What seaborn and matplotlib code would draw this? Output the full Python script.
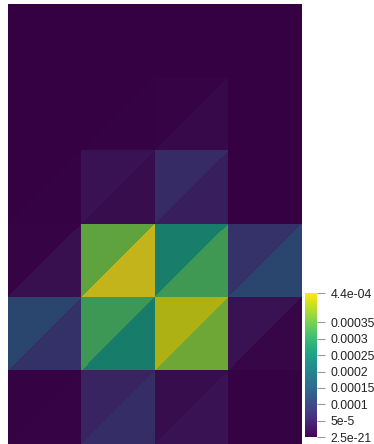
import numpy as np
import matplotlib
matplotlib.use("Agg")
import matplotlib.pyplot as plt
import seaborn as sns
from matplotlib.colors import ListedColormap, Normalize
from matplotlib.cm import ScalarMappable

sns.set_style("white")
plt.rcParams['font.family'] = ['Liberation Sans', 'DejaVu Sans']

# --- data: one value per triangle, rows listed top -> bottom, 4 columns ---
n_cols = 4
n_rows = 6
# upper-left triangle of each square cell
upper_left = [
    [1e-7, 1e-7, 1e-7, 1e-7],
    [1e-7, 1e-7, 4.0e-6, 1e-7],
    [1e-7, 2.6e-5, 7.0e-5, 1e-7],
    [4.0e-6, 3.52e-4, 2.50e-4, 8.4e-5],
    [1.23e-4, 3.17e-4, 4.18e-4, 2.6e-5],
    [2.0e-6, 5.7e-5, 2.0e-5, 2.0e-6],
]
# lower-right triangle of each square cell
lower_right = [
    [1e-7, 1e-7, 1e-7, 1e-7],
    [1e-7, 2.0e-6, 1.3e-5, 1e-7],
    [2.0e-6, 2.0e-5, 4.8e-5, 1e-7],
    [2.2e-5, 4.36e-4, 3.21e-4, 1.23e-4],
    [8.0e-5, 2.46e-4, 3.65e-4, 9.0e-6],
    [4.0e-6, 7.5e-5, 2.6e-5, 2.0e-6],
]
v_min = 2.5e-21
v_max = 4.4e-4
tick_values = [2.5e-21, 5e-5, 1e-4, 1.5e-4, 2e-4, 2.5e-4, 3e-4, 3.5e-4, 4.4e-4]
tick_labels = ['2.5e-21', '5e-5', '0.0001', '0.00015', '0.0002', '0.00025',
               '0.0003', '0.00035', '4.4e-04']

# --- build triangulated grid ---
xs, ys = np.meshgrid(np.arange(n_cols + 1), np.arange(n_rows + 1))
px, py = xs.ravel(), ys.ravel()

def node(i, j):
    return j * (n_cols + 1) + i

tris, vals = [], []
for r in range(n_rows):
    j = n_rows - 1 - r  # row index counted from the bottom
    for c in range(n_cols):
        bl, br = node(c, j), node(c + 1, j)
        tl, tr = node(c, j + 1), node(c + 1, j + 1)
        tris.append([bl, tr, tl]); vals.append(upper_left[r][c])
        tris.append([bl, br, tr]); vals.append(lower_right[r][c])
vals = np.array(vals)

base = np.array(sns.color_palette("viridis", 256))
lit_cmap = ListedColormap(base * 0.78)   # surface looks shaded
bar_cmap = ListedColormap(base)
norm = Normalize(vmin=v_min, vmax=v_max)

fig = plt.figure(figsize=(3.74, 4.44), dpi=100)
ax = fig.add_axes([8 / 374, 0, 294 / 374, 440 / 444])
ax.tripcolor(px, py, np.array(tris), facecolors=vals, cmap=lit_cmap, norm=norm,
             edgecolors='none', antialiased=False)
ax.set_xlim(0, n_cols)
ax.set_ylim(0, n_rows)
ax.set_axis_off()

cax = fig.add_axes([304.5 / 374, 7 / 444, 12.5 / 374, 144 / 444])
cb = fig.colorbar(ScalarMappable(norm=norm, cmap=bar_cmap), cax=cax)
cb.outline.set_visible(False)
cb.set_ticks(tick_values)
cb.set_ticklabels(tick_labels)
cax.tick_params(axis='y', length=6, width=0.8, color='#9a9a9a', pad=4,
                labelsize=8.8, labelcolor='#222222')

fig.savefig("out.png", dpi=100)
